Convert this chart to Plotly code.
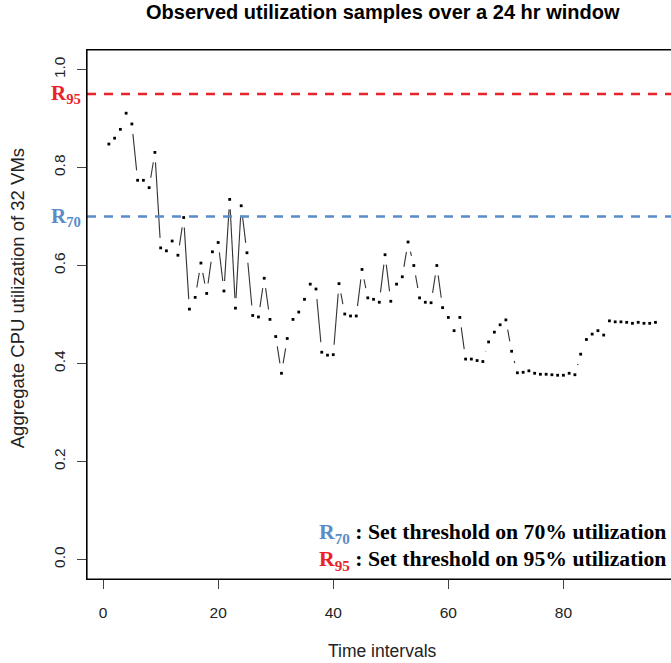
import math
import plotly.graph_objects as go

# ---------------- data ----------------
time_intervals = list(range(1, 97))
utilization = [
    0.848, 0.860, 0.878, 0.911, 0.889, 0.774, 0.774, 0.759, 0.831, 0.636,
    0.630, 0.650, 0.621, 0.698, 0.511, 0.535, 0.605, 0.543, 0.628, 0.647,
    0.548, 0.735, 0.513, 0.722, 0.626, 0.498, 0.495, 0.574, 0.490, 0.455,
    0.380, 0.451, 0.490, 0.505, 0.531, 0.562, 0.552, 0.423, 0.417, 0.418,
    0.563, 0.501, 0.497, 0.497, 0.592, 0.534, 0.531, 0.525, 0.622, 0.527,
    0.562, 0.577, 0.648, 0.600, 0.534, 0.525, 0.524, 0.600, 0.514, 0.494,
    0.467, 0.494, 0.409, 0.409, 0.406, 0.404, 0.444, 0.464, 0.479, 0.489,
    0.425, 0.381, 0.382, 0.385, 0.380, 0.378, 0.378, 0.377, 0.376, 0.376,
    0.380, 0.377, 0.419, 0.449, 0.460, 0.467, 0.458, 0.487, 0.485, 0.485,
    0.484, 0.482, 0.484, 0.482, 0.482, 0.484,
]
thresholds = [0.70, 0.95]
threshold_names = ["R<sub>70</sub>", "R<sub>95</sub>"]
threshold_colors = ["#5b8cc8", "#e8232a"]
threshold_desc = ["Set threshold on 70% utilization", "Set threshold on 95% utilization"]
x_ticks = [0, 20, 40, 60, 80]
y_ticks = [0.0, 0.2, 0.4, 0.6, 0.8, 1.0]

# ---------------- layout geometry ----------------
W, H = 671, 663
L, R, T, B = 86.8, 0, 50, 663 - 579
XR = [-2.8, 98.7]
YR = [-0.04, 1.04]
plot_w = W - L - R
plot_h = H - T - B
sx = plot_w / (XR[1] - XR[0])   # px per x unit
sy = plot_h / (YR[1] - YR[0])   # px per y unit
GAP = 10.0                      # R type="b" gap around points (px)


def px_x(px):
    """screen pixel x -> paper x"""
    return (px - L) / plot_w


def px_y(py):
    """screen pixel y -> paper y"""
    return (H - B - py) / plot_h


# gapped line segments (like R type="b")
seg_x, seg_y = [], []
for i in range(len(time_intervals) - 1):
    x0, y0 = time_intervals[i], utilization[i]
    x1, y1 = time_intervals[i + 1], utilization[i + 1]
    d = math.hypot((x1 - x0) * sx, (y1 - y0) * sy)
    if d > 2 * GAP:
        f = GAP / d
        seg_x += [x0 + (x1 - x0) * f, x1 - (x1 - x0) * f, None]
        seg_y += [y0 + (y1 - y0) * f, y1 - (y1 - y0) * f, None]

fig = go.Figure()
fig.add_trace(go.Scatter(x=seg_x, y=seg_y, mode="lines",
                         line=dict(color="#333333", width=1.1),
                         hoverinfo="skip", showlegend=False))
fig.add_trace(go.Scatter(x=time_intervals, y=utilization, mode="markers",
                         marker=dict(symbol="square", size=2.8, color="black",
                                     line=dict(width=0)),
                         showlegend=False))

for t, col in zip(thresholds, threshold_colors):
    fig.add_shape(type="line", xref="paper", x0=0, x1=1, yref="y", y0=t, y1=t,
                  line=dict(color=col, width=2.5, dash="9px,8px"))

# plot box (left, top, bottom; right side lies outside the window)
box = dict(color="black", width=1.2)
fig.add_shape(type="line", xref="paper", yref="paper", x0=0, x1=0, y0=0, y1=1, line=box)
fig.add_shape(type="line", xref="paper", yref="paper", x0=0, x1=1.02, y0=1, y1=1, line=box)
fig.add_shape(type="line", xref="paper", yref="paper", x0=0, x1=1.02, y0=0, y1=0, line=box)

serif = "Liberation Serif, Times New Roman, serif"
sans = "Liberation Sans, Arial, Helvetica, sans-serif"

# threshold labels at left of the axis
for t, name, col in zip(thresholds, threshold_names, threshold_colors):
    fig.add_annotation(xref="paper", yref="y", x=px_x(83), y=t,
                       xanchor="right", yanchor="middle", showarrow=False,
                       text=f"<b>{name}</b>",
                       font=dict(family=serif, size=21, color=col))

# legend-like text in the bottom right
for k, (name, col, desc) in enumerate(zip(threshold_names, threshold_colors, threshold_desc)):
    fig.add_annotation(xref="paper", yref="paper",
                       x=px_x(668), y=px_y(533 + 27 * k),
                       xanchor="right", yanchor="middle", showarrow=False,
                       text=f"<b><span style='color:{col}'>{name}</span> : {desc}</b>",
                       font=dict(family=serif, size=21.7, color="black"))

# title and axis titles
fig.add_annotation(xref="paper", yref="paper", x=px_x(383), y=px_y(12),
                   xanchor="center", yanchor="middle", showarrow=False,
                   text="<b>Observed utilization samples over a 24 hr window</b>",
                   font=dict(family=sans, size=20, color="black"))
fig.add_annotation(xref="paper", yref="paper", x=px_x(382), y=px_y(651),
                   xanchor="center", yanchor="middle", showarrow=False,
                   text="Time intervals", font=dict(family=sans, size=17.5, color="#222"))
fig.add_annotation(xref="paper", yref="paper", x=px_x(17), y=px_y(298),
                   xanchor="center", yanchor="middle", showarrow=False, textangle=-90,
                   text="Aggregate CPU utilization of 32 VMs",
                   font=dict(family=sans, size=18.5, color="#222"))

fig.update_xaxes(range=XR, showgrid=False, zeroline=False, showline=True, mirror=True,
                 linecolor="black", linewidth=1.2, ticks="outside", ticklen=9,
                 tickcolor="#444", tickwidth=1, tickvals=x_ticks,
                 ticklabelstandoff=10,
                 tickfont=dict(family=sans, size=15.5, color="#222"))
fig.update_yaxes(range=YR, showgrid=False, zeroline=False, showline=True, mirror=False,
                 linecolor="black", linewidth=1.2, ticks="outside", ticklen=9,
                 tickcolor="#444", tickwidth=1, tickvals=y_ticks, tickformat=".1f",
                 tickangle=-90, ticklabelstandoff=6,
                 tickfont=dict(family=sans, size=15.5, color="#222"))

fig.update_layout(width=W, height=H, margin=dict(l=L, r=R, t=T, b=B, autoexpand=False),
                  paper_bgcolor="white", plot_bgcolor="white")

# remove the default 8px page margin so the figure sits at the window origin
fig.write_html("out.html", config={"displayModeBar": False},
               post_script="document.body.style.margin='0';")
